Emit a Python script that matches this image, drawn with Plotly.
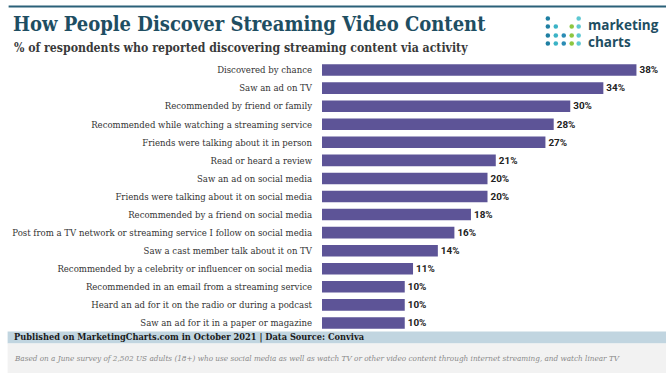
import plotly.graph_objects as go

categories = [
    "Discovered by chance",
    "Saw an ad on TV",
    "Recommended by friend or family",
    "Recommended while watching a streaming service",
    "Friends were talking about it in person",
    "Read or heard a review",
    "Saw an ad on social media",
    "Friends were talking about it on social media",
    "Recommended by a friend on social media",
    "Post from a TV network or streaming service I follow on social media",
    "Saw a cast member talk about it on TV",
    "Recommended by a celebrity or influencer on social media",
    "Recommended in an email from a streaming service",
    "Heard an ad for it on the radio or during a podcast",
    "Saw an ad for it in a paper or magazine",
]
values = [38, 34, 30, 28, 27, 21, 20, 20, 18, 16, 14, 11, 10, 10, 10]
value_labels = [f"<b>{v}%</b>" for v in values]

W, H = 666, 373
L, R = 320, 652.7
T, B = 60.5, 331.6

def px(x):
    return (x - L) / (R - L)

def py(y):
    return (B - y) / (B - T)

fig = go.Figure(go.Bar(
    x=values, y=categories, orientation="h",
    marker=dict(color="#5d5497", line=dict(width=0)),
    text=value_labels, textposition="outside", cliponaxis=False,
    textfont=dict(family="Roboto", size=12, color="#222222"),
    width=0.64, hoverinfo="skip",
))

fig.update_yaxes(autorange="reversed", tickfont=dict(family="DejaVu Serif Condensed", size=9.5, color="#333333"),
                 ticks="", showgrid=False, ticklabelstandoff=9, showline=False)
fig.update_xaxes(range=[0, 40], visible=False)

shapes = []
# top rule
shapes.append(dict(type="line", xref="paper", yref="paper", x0=px(5), x1=px(666), y0=py(6), y1=py(6),
                   line=dict(color="#2b6179", width=2)))
# footer bands
shapes.append(dict(type="rect", xref="paper", yref="paper", x0=px(4), x1=px(666), y0=py(331), y1=py(343),
                   fillcolor="#c1d5e0", line=dict(width=0), layer="below"))
shapes.append(dict(type="rect", xref="paper", yref="paper", x0=px(4), x1=px(666), y0=py(343), y1=py(373),
                   fillcolor="#f2f2f2", line=dict(width=0), layer="below"))
# logo dots
cols_x = [547, 555, 563, 571, 578]
rows_y = [18, 26, 35, 43]
col_colors = ["#1f7fa3", "#3bb3c6", "#2a8cb5", "#8dc640", "#5ec8d2"]
pattern = [[1, 0, 0, 0, 1], [1, 1, 0, 1, 1], [1, 1, 1, 1, 1], [1, 1, 1, 1, 1]]
r = 2.3
for ri, yy in enumerate(rows_y):
    for ci, xx in enumerate(cols_x):
        if pattern[ri][ci]:
            shapes.append(dict(type="circle", xref="paper", yref="paper",
                               x0=px(xx - r), x1=px(xx + r), y0=py(yy + r), y1=py(yy - r),
                               fillcolor=col_colors[ci], line=dict(width=0)))

annotations = [
    dict(text="<b>How People Discover Streaming Video Content</b>", x=px(7), y=py(23),
         font=dict(family="DejaVu Serif Condensed", size=20, color="#1e4e62")),
    dict(text="<b>% of respondents who reported discovering streaming content via activity</b>", x=px(8), y=py(47),
         font=dict(family="DejaVu Serif Condensed", size=12.2, color="#3a3a3a")),
    dict(text="<b>marketing</b>", x=px(585), y=py(24.5),
         font=dict(family="Open Sans", size=13.5, color="#1e4e62")),
    dict(text="<b>charts</b>", x=px(585), y=py(41.5),
         font=dict(family="Open Sans", size=13.5, color="#1e4e62")),
    dict(text="<b>Published on MarketingCharts.com in October 2021 | Data Source: Conviva</b>", x=px(8), y=py(337),
         font=dict(family="DejaVu Serif Condensed", size=9.2, color="#1a1a1a")),
    dict(text="<i>Based on a June survey of 2,502 US adults (18+) who use social media as well as watch TV or other video content through internet streaming, and watch linear TV</i>",
         x=px(8), y=py(358), font=dict(family="DejaVu Serif Condensed", size=8.1, color="#8a8a8a")),
]
for a in annotations:
    a.update(xref="paper", yref="paper", xanchor="left", yanchor="middle", showarrow=False)

fig.update_layout(
    width=W, height=H,
    margin=dict(l=L, r=W - R, t=T, b=H - B, pad=0),
    paper_bgcolor="white", plot_bgcolor="white",
    shapes=shapes, annotations=annotations,
    showlegend=False, bargap=0.36, hovermode=False,
)
fig.write_html("out.html", config={"displayModeBar": False},
               post_script="document.body.style.margin='0';document.body.style.padding='0';")
